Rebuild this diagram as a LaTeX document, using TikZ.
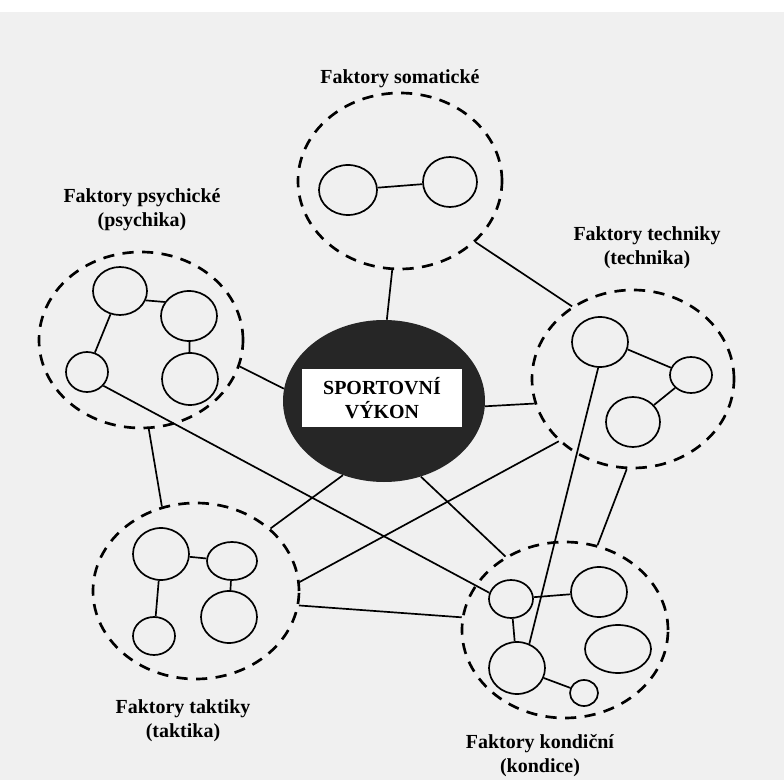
\documentclass[tikz,border=0pt]{standalone}
\usepackage{fontspec}
\setmainfont{Liberation Serif}
\usetikzlibrary{shapes.geometric}

\begin{document}
\begin{tikzpicture}[x=0.25mm, y=-0.25mm,
    cluster/.style={draw, ellipse, line width=1.9pt, dash pattern=on 2.8mm off 2.1mm, inner sep=0pt},
    factor/.style={draw, ellipse, line width=1.2pt, inner sep=0pt},
    factorlabel/.style={font=\bfseries\fontsize{14.2}{17}\selectfont, align=center},
    link/.style={line width=1.2pt}]
    \fill[white] (0,0) rectangle (784,780);
    \fill[black!6] (0,12) rectangle (784,780);
    \useasboundingbox (0,0) rectangle (784,780);

    \node[cluster, minimum width=51mm, minimum height=44mm] (S) at (400,181) {};
    \node[cluster, minimum width=51mm, minimum height=44mm] (P) at (141,340) {};
    \node[cluster, minimum width=50.5mm, minimum height=44.5mm] (T) at (633,379) {};
    \node[cluster, minimum width=51.5mm, minimum height=44mm] (K) at (196,591) {};
    \node[cluster, minimum width=51.5mm, minimum height=44mm] (Kd) at (565,630) {};

    \node[ellipse, fill=black!85, inner sep=0pt, minimum width=50.5mm, minimum height=40.5mm] (C) at (384,401) {};
    \node[fill=white, minimum width=40mm, minimum height=14.5mm, factorlabel] (title) at (382,398) {SPORTOVNÍ\\VÝKON};

    \node[factorlabel] (lS) at (400,79) {Faktory somatické};
    \node[factorlabel] (lP) at (142,210) {Faktory psychické\\(psychika)};
    \node[factorlabel] (lT) at (647,248) {Faktory techniky\\(technika)};
    \node[factorlabel] (lK) at (183,721) {Faktory taktiky\\(taktika)};
    \node[factorlabel] (lKd) at (540,756) {Faktory kondiční\\(kondice)};

    \node[factor, minimum width=14.5mm, minimum height=12.5mm] (s1) at (348,190) {};
    \node[factor, minimum width=13.5mm, minimum height=12.5mm] (s2) at (450,182) {};

    \node[factor, minimum width=13.5mm, minimum height=12mm] (p1) at (120,291) {};
    \node[factor, minimum width=14mm, minimum height=12.5mm] (p2) at (189,316) {};
    \node[factor, minimum width=10.5mm, minimum height=10mm] (p3) at (87,372) {};
    \node[factor, minimum width=14mm, minimum height=13mm] (p4) at (190,379) {};

    \node[factor, minimum width=14mm, minimum height=12.5mm] (t1) at (600,342) {};
    \node[factor, minimum width=10.5mm, minimum height=9mm] (t2) at (691,375) {};
    \node[factor, minimum width=13.5mm, minimum height=12.5mm] (t3) at (633,422) {};

    \node[factor, minimum width=14mm, minimum height=13mm] (k1) at (161,554) {};
    \node[factor, minimum width=12.5mm, minimum height=9.5mm] (k2) at (232,561) {};
    \node[factor, minimum width=14mm, minimum height=13mm] (k3) at (229,617) {};
    \node[factor, minimum width=10.5mm, minimum height=9.5mm] (k4) at (154,636) {};

    \node[factor, minimum width=11mm, minimum height=9.5mm] (d1) at (511,599) {};
    \node[factor, minimum width=14mm, minimum height=12.5mm] (d2) at (599,592) {};
    \node[factor, minimum width=16.5mm, minimum height=12mm] (d3) at (618,649) {};
    \node[factor, minimum width=14mm, minimum height=13mm] (d4) at (517,668) {};
    \node[factor, minimum width=7mm, minimum height=6.5mm] (d5) at (584,693) {};

    \draw[link] (s1) -- (s2);
    \draw[link] (p1.-20) -- (p2.150);
    \draw[link] (p2) -- (p4);
    \draw[link] (p1) -- (p3);
    \draw[link] (t1.-15) -- (t2.160);
    \draw[link] (t2) -- (t3);
    \draw[link] (k1) -- (k2);
    \draw[link] (k2) -- (k3);
    \draw[link] (k1) -- (k4);
    \draw[link] (d1) -- (d2);
    \draw[link] (d1) -- (d4);
    \draw[link] (d4) -- (d5);

    \draw[link] (S.-95) -- (C.88);
    \draw[link] (S.-39) -- (T.130);
    \draw[link] (P.-15) -- (C.173);
    \draw[link] (p3.-40) -- (d1.164);
    \draw[link] (P.-85) -- (K.112);
    \draw[link] (C.-119) -- (K.40);
    \draw[link] (K.5) -- (T.-140);
    \draw[link] (K.-8) -- (Kd.173);
    \draw[link] (C.-3) -- (T.-166);
    \draw[link] (C.-64) -- (Kd.129);
    \draw[link] (t1.-94) -- (d4.63);
    \draw[link] (T.-94) -- (Kd.69);
\end{tikzpicture}
\end{document}
